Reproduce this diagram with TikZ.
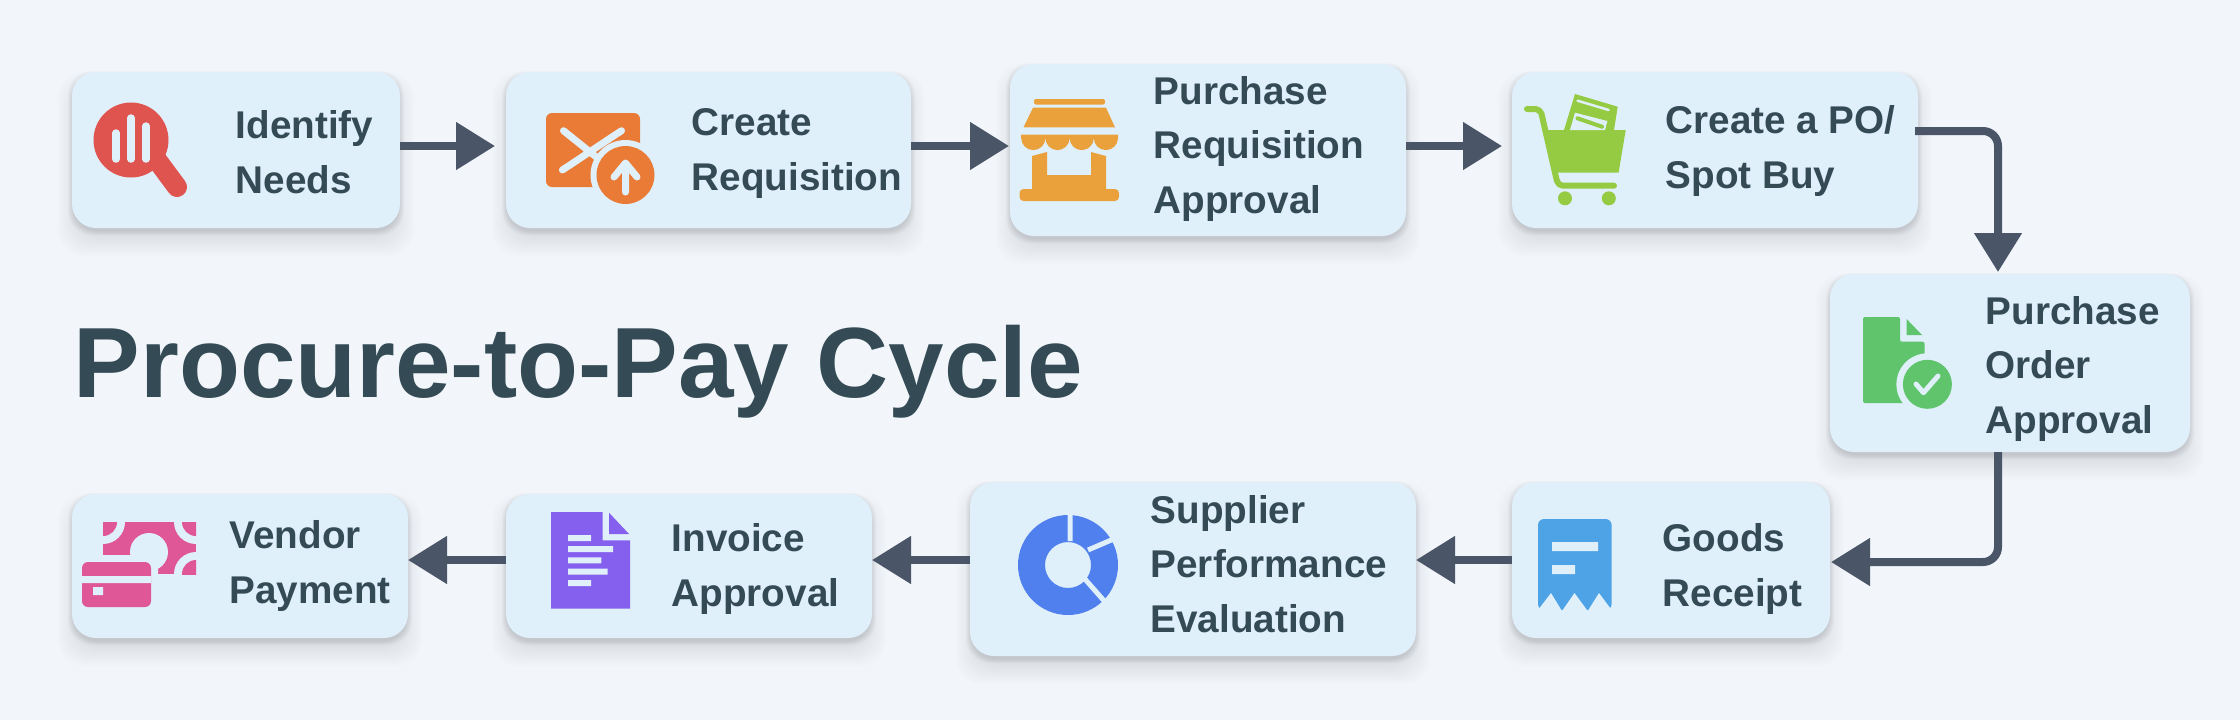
\documentclass[tikz,border=0pt]{standalone}
\usepackage{xcolor}
\usepackage{fontspec}
\setmainfont{Liberation Sans}
\usetikzlibrary{arrows.meta,positioning,backgrounds,calc}
\definecolor{pagebg}{HTML}{F2F6FB}
\definecolor{boxfill}{HTML}{DFF0FB}
\definecolor{arrowgrey}{HTML}{4A5568}
\definecolor{textdark}{HTML}{344A54}
\definecolor{iconred}{HTML}{E0544F}
\definecolor{iconorange}{HTML}{EA7B36}
\definecolor{iconamber}{HTML}{EBA13B}
\definecolor{iconlime}{HTML}{95CA43}
\definecolor{icongreen}{HTML}{5FC46B}
\definecolor{iconsky}{HTML}{4DA3E5}
\definecolor{iconblue}{HTML}{4F80EE}
\definecolor{iconpurple}{HTML}{8560EE}
\definecolor{iconpink}{HTML}{DF5797}
\tikzset{
  stepbox/.style={fill=boxfill, rounded corners=0.24cm, inner sep=0pt, outer sep=0pt},
  steplabel/.style={anchor=base west, align=left, inner sep=0pt, text=textdark,
    font=\fontsize{11}{15.37}\selectfont\bfseries},
  flowarrow/.style={draw=arrowgrey, line width=0.08cm, -{Triangle[length=0.39cm,width=0.46cm]}},
  iconline/.style={draw=boxfill, line cap=round, line join=round}
}

\begin{document}
\begin{tikzpicture}[x=0.1mm,y=-0.1mm]
  \begin{scope}[on background layer]
    \fill[pagebg] (0,0) rectangle (2240,720);
  \end{scope}

  % Title
  \node[anchor=base west, inner sep=0pt, text=textdark, font=\fontsize{28.4}{34}\selectfont\bfseries]
    (title) at (73,397) {Procure-to-Pay Cycle};

  % Top row
  \node[stepbox, minimum width=3.28cm, minimum height=1.56cm] (needs) at (236,150) {};
  \node[stepbox, minimum width=4.05cm, minimum height=1.56cm] (requisition) at (708.5,150) {};
  \node[stepbox, minimum width=3.96cm, minimum height=1.72cm] (reqapproval) at (1208,150) {};
  \node[stepbox, minimum width=4.06cm, minimum height=1.56cm] (createpo) at (1715,150) {};

  % Right side
  \node[stepbox, minimum width=3.60cm, minimum height=1.78cm] (poapproval) at (2010,363) {};

  % Bottom row
  \node[stepbox, minimum width=3.18cm, minimum height=1.56cm] (goods) at (1671,560) {};
  \node[stepbox, minimum width=4.46cm, minimum height=1.74cm] (supplier) at (1193,569) {};
  \node[stepbox, minimum width=3.66cm, minimum height=1.44cm] (invoice) at (689,566) {};
  \node[stepbox, minimum width=3.36cm, minimum height=1.44cm] (vendor) at (240,566) {};

  % Labels
  \node[steplabel] (needstext) at (235,193) {Identify\\Needs};
  \node[steplabel] (requisitiontext) at (691,190) {Create\\Requisition};
  \node[steplabel] (reqapprovaltext) at (1153,213) {Purchase\\Requisition\\Approval};
  \node[steplabel] (createpotext) at (1665,188) {Create a PO/\\Spot Buy};
  \node[steplabel] (poapprovaltext) at (1985,433) {Purchase\\Order\\Approval};
  \node[steplabel] (goodstext) at (1662,606) {Goods\\Receipt};
  \node[steplabel] (suppliertext) at (1150,632) {Supplier\\Performance\\Evaluation};
  \node[steplabel] (invoicetext) at (671,606) {Invoice\\Approval};
  \node[steplabel] (vendortext) at (229,603) {Vendor\\Payment};

  % Connectors
  \draw[flowarrow] ([yshift=0.04cm]needs.east) -- ([xshift=-0.11cm,yshift=0.04cm]requisition.west);
  \draw[flowarrow] ([yshift=0.04cm]requisition.east) -- ([xshift=-0.01cm,yshift=0.04cm]reqapproval.west);
  \draw[flowarrow] ([yshift=0.04cm]reqapproval.east) -- ([xshift=-0.10cm,yshift=0.04cm]createpo.west);
  \draw[flowarrow, rounded corners=0.15cm] ([xshift=-0.03cm,yshift=0.19cm]createpo.east) -| ([xshift=-0.12cm,yshift=0.02cm]poapproval.north);
  \draw[flowarrow, rounded corners=0.15cm] ([xshift=-0.12cm]poapproval.south) |- ([xshift=0.01cm,yshift=-0.02cm]goods.east);
  \draw[flowarrow] (goods.west) -- (goods.west -| supplier.east);
  \draw[flowarrow] (goods.west -| supplier.west) -- (goods.west -| invoice.east);
  \draw[flowarrow] (goods.west -| invoice.west) -- (goods.west -| vendor.east);

  % Identify Needs icon
  \draw[iconred, line width=0.2cm, line cap=round] (157,160) -- (177,187);
  \fill[iconred] (131,140) circle[radius=37.5];
  \draw[iconline, line width=0.075cm] (116,133) -- (116,159) (131,118) -- (131,159) (146,126) -- (146,159);

  % Create Requisition icon
  \fill[iconorange, rounded corners=0.06cm] (546,113) rectangle (640,187);
  \draw[iconline, line width=0.07cm] (563.5,130.7) -- (600,160) (621.5,130.7) -- (562.4,170);
  \fill[boxfill] (625.5,175) circle[radius=35];
  \fill[iconorange] (625.5,175) circle[radius=29];
  \draw[iconline, line width=0.07cm] (625.5,192) -- (625.5,165) (614,177) -- (625.5,163) -- (637,177);

  % Purchase Requisition Approval icon
  \fill[iconamber, rounded corners=0.02cm] (1034,99) rectangle (1105,104.5);
  \fill[iconamber] (1033,107.7) -- (1106,107.7) -- (1115,127.3) -- (1023.5,127.3) -- cycle;
  \fill[iconamber] (1021,134.7) -- (1118,134.7) -- (1118,138) arc[start angle=0,end angle=180,radius=12.1]
    arc[start angle=0,end angle=180,radius=12.1] arc[start angle=0,end angle=180,radius=12.1]
    arc[start angle=0,end angle=180,radius=12.1] -- cycle;
  \fill[iconamber] (1032,156) -- (1047,152) -- (1047,175) -- (1091,175) -- (1091,152) -- (1106,156) -- (1106,190) -- (1032,190) -- cycle;
  \fill[iconamber, rounded corners=0.04cm] (1019.5,189) rectangle (1119,201);

  % Create a PO icon
  \draw[iconlime, line width=0.06cm, line cap=round, line join=round, rounded corners=0.05cm]
    (1527,109) -- (1540.4,109) -- (1558,185.7) -- (1614,185.7);
  \fill[iconlime] (1544,130) -- (1625.7,130) -- (1618.6,172.7) -- (1554,172.7) -- cycle;
  \fill[iconlime] (1565,198.3) circle[radius=7] (1608.8,198.3) circle[radius=7];
  \fill[iconlime] (1575,94) -- (1617.7,106.7) -- (1614,130) -- (1564,130) -- cycle;
  \draw[iconline, line width=0.025cm] (1577.5,100.7) -- (1608.7,110);
  \fill[boxfill] (1575,112.7) -- (1607.4,121) -- (1605,130) -- (1570,130) -- cycle;
  \draw[iconlime, line width=0.04cm, line cap=round] (1577.5,118.3) -- (1602,126.7);

  % Purchase Order Approval icon
  \fill[icongreen, rounded corners=0.02cm] (1863,317) -- (1900,317) -- (1900,341.7) -- (1924.5,341.7) -- (1924.5,403) -- (1863,403) -- cycle;
  \fill[icongreen] (1906.6,319) -- (1922,335) -- (1906.6,335) -- cycle;
  \fill[boxfill] (1927.4,384.3) circle[radius=31];
  \fill[icongreen] (1927.4,384.3) circle[radius=24.5];
  \draw[iconline, line width=0.05cm] (1916,384) -- (1923.5,392.7) -- (1938,376);

  % Goods Receipt icon
  \fill[iconsky, rounded corners=0.06cm] (1538,610) -- (1538,519) -- (1611.6,519) -- (1611.6,610) -- cycle;
  \fill[boxfill] (1538,610) -- (1551,593) -- (1562,611) -- (1574.5,593) -- (1587.7,611) -- (1599,593) -- (1611.6,610) -- (1611.6,615) -- (1538,615) -- cycle;
  \fill[boxfill] (1552,542) rectangle (1598,551) (1552,565) rectangle (1575,574);

  % Supplier Performance Evaluation icon
  \fill[iconblue, even odd rule] (1068,565) circle[radius=50] (1068,565) circle[radius=23];
  \draw[boxfill, line width=0.05cm] (1070,541) -- (1070,512) (1088,550) -- (1116,538) (1084,578) -- (1106,603);

  % Invoice Approval icon
  \fill[iconpurple] (551,512) -- (602.6,512) -- (602.6,540.3) -- (630,540.3) -- (630,608.7) -- (551,608.7) -- cycle;
  \fill[iconpurple] (609,512.7) -- (629,534) -- (609,534) -- cycle;
  \fill[boxfill] (568,535) rectangle (591,541) (568,546) rectangle (613,552) (568,557.3) rectangle (601.4,563.3)
    (568,568.7) rectangle (607.7,574.7) (568,580) rectangle (591,586);

  % Vendor Payment icon
  \fill[iconpink] (103,522) rectangle (196,574);
  \begin{scope}
    \clip (103,522) rectangle (196,574);
    \foreach \corner in {(103,522),(196,522),(196,574)} {
      \fill[boxfill] \corner circle[radius=22];
      \fill[iconpink] \corner circle[radius=14];
    }
  \end{scope}
  \fill[boxfill] (149,552) circle[radius=19];
  \fill[boxfill, rounded corners=0.08cm] (75,555) rectangle (158,614);
  \fill[iconpink, rounded corners=0.06cm] (82,562) rectangle (151,607);
  \fill[boxfill] (82,576) rectangle (151,583) (93,587) rectangle (103,595);

  % Soft shadows under the boxes
  \begin{scope}[on background layer]
    \foreach \n in {needs,requisition,reqapproval,createpo,poapproval,goods,supplier,invoice,vendor} {
      \foreach \s in {-8,-6,...,14} {
        \fill[black, opacity=0.006, rounded corners=0.25cm] ($(\n.south west)+(-\s,\s+14)$) rectangle ($(\n.north east)+(\s,-\s+14)$);
      }
      \foreach \s in {0,1,...,4} {
        \fill[black, opacity=0.02, rounded corners=0.24cm] ($(\n.south west)+(-\s,\s+3)$) rectangle ($(\n.north east)+(\s,-\s+3)$);
      }
    }
  \end{scope}
\end{tikzpicture}
\end{document}
